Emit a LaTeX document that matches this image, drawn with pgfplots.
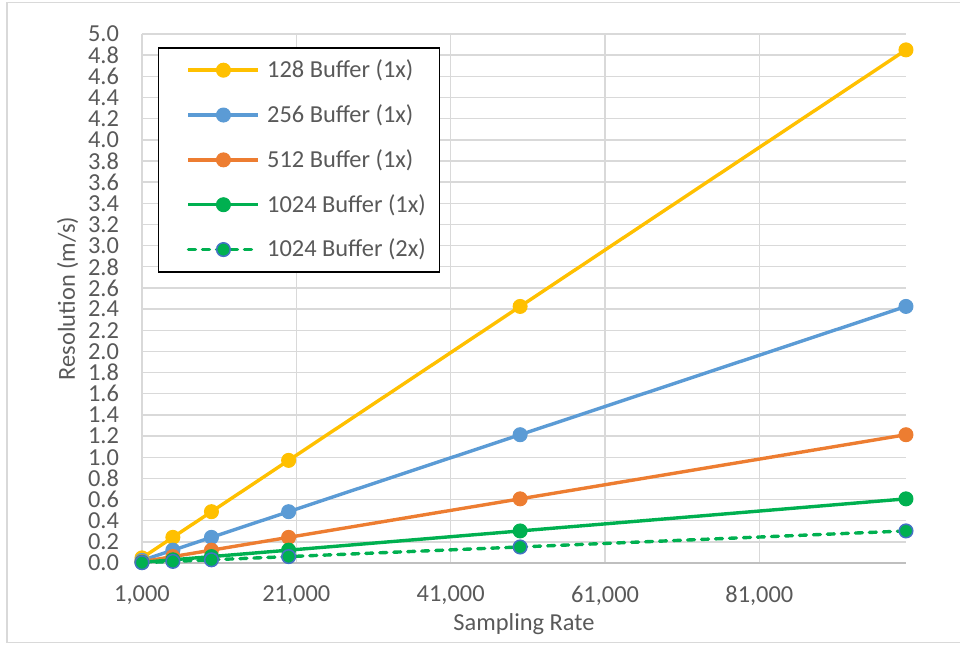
\documentclass[border=0pt]{standalone}
\usepackage{pgfplots}
\pgfplotsset{compat=1.18}
\usepackage{fontspec}
\setmainfont{Carlito}

\definecolor{cYel}{HTML}{FFC000}
\definecolor{cBlu}{HTML}{5B9BD5}
\definecolor{cOra}{HTML}{ED7D31}
\definecolor{cGrn}{HTML}{00B050}
\definecolor{cEdge}{HTML}{4472C4}
\definecolor{txt}{HTML}{595959}
\definecolor{gridc}{HTML}{D9D9D9}
\definecolor{axc}{HTML}{BFBFBF}

\begin{document}
\begin{tikzpicture}
\useasboundingbox (-71pt,-40.5pt) rectangle (409pt,281.5pt);
\draw[gridc, line width=0.75pt] (-67.5pt,-39.75pt) rectangle (415pt,280.25pt);
\begin{axis}[
    at={(0pt,0pt)}, anchor=south west,
    scale only axis,
    width=382pt, height=264.5pt,
    xmin=1000, xmax=100000,
    ymin=0, ymax=5,
    enlargelimits=false,
    clip=false,
    xtick={1000,21000,41000,61000,81000},
    ytick distance=0.2,
    scaled x ticks=false,
    major tick length=0pt,
    grid=major,
    major grid style={gridc, line width=0.7pt},
    axis x line=bottom,
    axis y line=left,
    x axis line style={axc, line width=0.75pt, -},
    y axis line style={gridc, line width=0.7pt, -},
    font=\fontsize{12.2}{14.6}\selectfont,
    tick label style={text=txt},
    /pgf/number format/assume math mode=true,
    xticklabel style={/pgf/number format/fixed, /pgf/number format/1000 sep={,}, yshift=-8pt},
    yticklabel style={/pgf/number format/fixed, /pgf/number format/fixed zerofill,
        /pgf/number format/precision=1, xshift=-8pt, inner ysep=0pt},
    xlabel={Sampling Rate},
    ylabel={Resolution (m/s)},
    label style={text=txt},
    xlabel style={at={(axis description cs:0.5,0)}, anchor=base, yshift=-33.5pt},
    ylabel style={at={([xshift=-33.5pt]axis description cs:0,0.5)}, anchor=base},
    legend cell align=left,
    legend image code/.code={
        \path (-7pt,0pt);
        \draw[mark repeat=2,mark phase=2,#1] plot coordinates {(0pt,0pt) (17.5pt,0pt) (35pt,0pt)};
    },
    legend style={at={(axis description cs:0,1)}, anchor=north west,
        xshift=8pt, yshift=-6.5pt,
        draw=black, line width=0.75pt,
        font=\fontsize{12.2}{14.6}\selectfont,
        inner xsep=7pt, inner ysep=6pt,
        row sep=12pt, column sep=3.5pt,
        nodes={inner sep=0pt, text=txt}},
]
\addplot[cYel, line width=1.7pt, mark=*, mark size=3.5pt,
    mark options={solid, fill=cYel, draw=cYel, line width=0.5pt}] coordinates {
    (1000,0.0485) (5000,0.2425) (10000,0.485) (20000,0.97) (50000,2.425) (100000,4.85)};
\addplot[cBlu, line width=1.7pt, mark=*, mark size=3.5pt,
    mark options={solid, fill=cBlu, draw=cBlu, line width=0.5pt}] coordinates {
    (1000,0.0243) (5000,0.1213) (10000,0.2425) (20000,0.485) (50000,1.2125) (100000,2.425)};
\addplot[cOra, line width=1.7pt, mark=*, mark size=3.5pt,
    mark options={solid, fill=cOra, draw=cOra, line width=0.5pt}] coordinates {
    (1000,0.0121) (5000,0.0606) (10000,0.1213) (20000,0.2425) (50000,0.6063) (100000,1.2125)};
\addplot[cGrn, line width=1.7pt, mark=*, mark size=3.5pt,
    mark options={solid, fill=cGrn, draw=cGrn, line width=0.5pt}] coordinates {
    (1000,0.0061) (5000,0.0303) (10000,0.0606) (20000,0.1213) (50000,0.3031) (100000,0.6063)};
\addplot[cGrn, line width=1.7pt, line cap=round, dash pattern=on 3.5pt off 3.5pt,
    mark=*, mark size=3.4pt,
    mark options={solid, fill=cGrn, draw=cEdge, line width=0.75pt}] coordinates {
    (1000,0.0030) (5000,0.0152) (10000,0.0303) (20000,0.0606) (50000,0.1516) (100000,0.3031)};
\legend{128 Buffer (1x), 256 Buffer (1x), 512 Buffer (1x), 1024 Buffer (1x), 1024 Buffer (2x)}
\end{axis}
\end{tikzpicture}
\end{document}
